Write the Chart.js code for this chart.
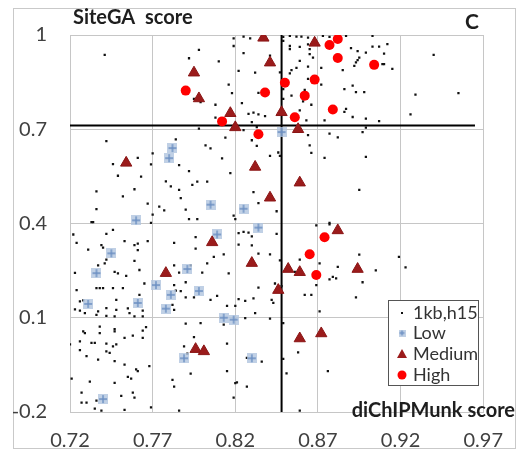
<!DOCTYPE html>
<html>
<head>
<meta charset="utf-8">
<script src="https://cdn.jsdelivr.net/npm/chart.js@4"></script>
<style>
html, body { margin: 0; padding: 0; background: #fff; }
</style>
</head>
<body>
<canvas id="siteScoreChart" width="520" height="453"></canvas>
<script>
var xTicks = [0.72, 0.77, 0.82, 0.87, 0.92, 0.97];
var yTicks = [-0.2, 0.1, 0.4, 0.7, 1];
var cutX = 0.848;
var cutY = 0.712;
var cutYEnd = 0.965;

// 1kb,h15 background sites
var allX = [
 0.741,0.742,0.784,0.746,0.761,0.770,0.769,0.749,0.763,0.778,0.781,0.736,0.759,0.752,0.767,0.736,0.774,0.777,0.770,0.733,0.769,
 0.798,0.792,0.810,0.819,0.819,0.825,0.829,0.825,0.841,0.816,0.818,0.822,0.832,0.834,0.824,0.808,0.795,0.799,0.808,0.828,0.831,0.834,0.830,0.838,0.833,0.798,0.814,0.802,0.805,0.812,0.830,0.833,0.841,0.846,0.786,0.792,0.797,0.803,0.817,0.786,0.794,0.787,0.790,0.831,0.845,0.792,0.797,0.819,0.820,0.834,0.825,
 0.849,0.853,0.857,0.860,0.864,0.873,0.877,0.887,0.903,0.849,0.853,0.859,0.864,0.865,0.890,0.894,0.899,0.903,0.907,0.909,0.853,0.859,0.865,0.867,0.854,0.853,0.847,0.864,0.857,0.893,0.894,0.892,0.895,0.885,0.872,0.864,0.872,0.862,0.863,0.854,0.849,0.849,0.861,0.866,0.859,0.863,0.874,0.886,0.891,0.893,0.898,0.887,0.886,0.891,0.899,0.907,0.899,0.877,0.882,0.897,0.864,0.865,0.866,0.847,0.874,0.899,0.895,0.877,
 0.912,0.910,0.910,0.915,0.940,0.929,0.955,0.926,
 0.734,0.722,0.742,0.746,0.724,0.739,0.740,0.731,0.753,0.759,0.761,0.767,0.761,0.759,0.742,0.741,0.737,0.747,0.749,0.754,0.723,0.762,0.736,0.738,0.740,0.746,0.752,0.724,0.765,0.762,0.726,0.728,0.723,0.726,0.729,0.737,0.742,0.748,0.748,0.747,0.742,0.755,0.756,0.764,0.759,0.764,0.736,
 0.766,0.764,0.728,0.729,0.747,0.747,0.738,0.758,0.753,0.726,0.720,0.733,0.735,0.742,0.746,0.748,0.726,0.742,0.744,0.730,0.737,0.747,0.753,0.760,0.761,0.768,0.721,0.732,0.747,0.755,0.757,0.758,0.759,0.751,0.727,0.727,0.730,0.736,0.735,0.739,0.753,0.769,0.738,0.764,
 0.796,0.796,0.783,0.813,0.807,0.803,0.793,0.783,0.786,0.800,0.816,0.790,0.783,0.784,0.787,0.790,0.795,0.805,0.809,0.782,0.783,0.815,0.820,0.822,0.826,0.831,0.832,0.842,0.845,0.822,0.825,0.828,0.830,0.822,0.830,0.834,0.844,0.834,0.826,0.841,0.813,0.799,0.790,0.795,0.789,0.791,0.815,0.836,0.827,0.793,0.815,0.782,0.783,0.821,0.827,0.819,0.786,
 0.869,0.877,0.847,0.859,0.871,0.882,0.895,0.905,0.897,0.877,0.879,0.881,0.869,0.862,0.866,0.893,0.856,0.871,0.849,0.858,0.849,0.851,0.876,0.859,
 0.919,0.923,0.848,0.843,0.841,0.820
];
var allY = [
 0.937,0.662,0.668,0.589,0.609,0.623,0.588,0.552,0.549,0.534,0.518,0.502,0.509,0.486,0.463,0.446,0.454,0.442,0.428,0.404,0.402,
 0.953,0.926,0.916,0.989,0.965,0.995,0.989,0.942,0.934,0.842,0.815,0.886,0.880,0.816,0.783,0.778,0.797,0.786,0.737,0.749,0.753,0.747,0.723,0.742,0.707,0.702,0.673,0.649,0.639,0.607,0.665,0.647,0.615,0.626,0.586,0.567,0.533,0.533,0.560,0.507,0.523,0.481,0.444,0.500,0.439,0.414,0.414,0.425,0.414,0.465,0.697,
 0.994,0.997,0.995,0.995,0.992,0.997,0.994,0.997,0.997,0.981,0.965,0.962,0.970,0.955,0.958,0.949,0.944,0.963,0.963,0.907,0.955,0.918,0.939,0.928,0.888,0.878,0.881,0.899,0.895,0.913,0.920,0.902,0.928,0.888,0.895,0.860,0.842,0.825,0.816,0.807,0.828,0.797,0.789,0.778,0.760,0.728,0.728,0.828,0.839,0.818,0.818,0.765,0.755,0.739,0.734,0.726,0.705,0.686,0.674,0.691,0.681,0.649,0.625,0.615,0.609,0.612,0.507,0.402,
 0.971,0.941,0.907,0.892,0.937,0.810,0.815,0.747,
 0.404,0.365,0.367,0.380,0.338,0.331,0.323,0.317,0.344,0.331,0.336,0.344,0.315,0.281,0.285,0.273,0.267,0.246,0.241,0.233,0.243,0.252,0.194,0.194,0.194,0.194,0.194,0.188,0.209,0.173,0.152,0.155,0.127,0.123,0.115,0.120,0.131,0.157,0.125,0.104,0.106,0.130,0.115,0.123,0.104,0.104,0.109,
 0.070,0.059,0.057,0.051,0.064,0.057,0.051,0.043,0.036,0.025,0.015,0.020,0.020,0.018,0.009,0.015,-0.003,-0.007,-0.012,-0.022,-0.033,-0.038,-0.049,-0.064,-0.070,-0.054,-0.094,-0.103,-0.107,-0.088,-0.094,-0.138,-0.154,-0.149,-0.138,-0.170,-0.170,-0.164,-0.189,-0.196,-0.193,-0.185,0.072,0.036,
 0.357,0.320,0.338,0.302,0.294,0.273,0.267,0.267,0.244,0.244,0.241,0.213,0.204,0.186,0.185,0.165,0.165,0.157,0.170,0.141,0.125,0.138,0.138,0.159,0.154,0.162,0.115,0.157,0.367,0.369,0.373,0.371,0.359,0.333,0.330,0.304,0.209,0.196,0.099,0.097,0.078,0.083,0.081,0.038,0.009,-0.014,0.018,-0.040,-0.028,-0.078,-0.070,-0.098,-0.119,-0.106,-0.119,-0.154,-0.196,
 0.394,0.397,0.283,0.285,0.273,0.262,0.301,0.251,0.213,0.222,0.230,0.225,0.204,0.173,0.173,0.165,0.246,0.120,0.083,-0.010,-0.031,-0.077,-0.070,-0.196,
 0.294,0.260,0.201,0.147,0.302,-0.108
];

var lowX = [0.782,0.780,0.805,0.825,0.760,0.834,0.809,0.848,0.745,0.736,0.791,0.772,0.798,0.781,0.761,0.731,0.778,0.813,0.819,0.789,0.830,0.740];
var lowY = [0.640,0.608,0.460,0.447,0.410,0.387,0.365,0.691,0.305,0.242,0.255,0.204,0.185,0.173,0.147,0.144,0.129,0.100,0.094,-0.029,-0.029,-0.159];

var mediumX = [0.754,0.795,0.798,0.817,0.820,0.832,0.837,0.841,0.868,0.848,0.858,0.859,0.841,0.882,0.806,0.830,0.778,0.796,0.801,0.852,0.859,0.894,0.846,0.859,0.872];
var mediumY = [0.593,0.880,0.798,0.751,0.706,0.580,0.991,0.912,0.975,0.754,0.700,0.530,0.482,0.378,0.340,0.274,0.242,0.000,-0.007,0.255,0.245,0.255,0.188,0.034,0.050];

var highX = [0.877,0.882,0.882,0.904,0.850,0.868,0.838,0.862,0.879,0.856,0.834,0.790,0.812,0.874,0.865,0.869];
var highY = [0.968,0.987,0.927,0.905,0.848,0.858,0.817,0.807,0.763,0.738,0.684,0.823,0.725,0.356,0.302,0.236];

function pairs(xs, ys) {
    return xs.map(function (x, i) { return { x: x, y: ys[i] }; });
}

function lowMarker(size) {
    var c = document.createElement('canvas');
    c.width = size; c.height = size;
    var g = c.getContext('2d');
    g.fillStyle = 'rgba(176,196,222,0.8)';
    g.fillRect(0, 0, size, size);
    g.strokeStyle = '#6b8fc2';
    g.lineWidth = 1.4;
    g.beginPath();
    g.moveTo(size / 2, 1); g.lineTo(size / 2, size - 1);
    g.moveTo(1, size / 2); g.lineTo(size - 1, size / 2);
    g.stroke();
    return c;
}

var lowImg = lowMarker(10);
var lowImgSmall = lowMarker(7);

var textPlugin = {
    id: 'frameAndText',
    beforeDraw: function (chart) {
        var c = chart.ctx;
        c.save();
        c.strokeStyle = '#c9c9c9';
        c.lineWidth = 1;
        c.strokeRect(13.5, 8.5, 502, 440);
        c.restore();
    },
    afterDraw: function (chart) {
        var c = chart.ctx;
        c.save();
        c.fillStyle = '#1e1e1e';
        c.textBaseline = 'middle';
        c.font = 'bold 20px Lato';
        c.textAlign = 'left';
        c.fillText('SiteGA  score', 73, 18);
        c.textAlign = 'right';
        c.fillText('diChIPMunk score', 515, 411);
        c.textAlign = 'center';
        c.font = 'bold 21px Lato';
        c.fillText('C', 472, 22);

        // legend box
        c.fillStyle = '#fff';
        c.fillRect(388, 300, 90, 85);
        c.strokeStyle = '#555';
        c.lineWidth = 1;
        c.strokeRect(388.5, 300.5, 90, 85);
        var rows = [313, 333, 354, 375];
        var labels = ['1kb,h15', 'Low', 'Medium', 'High'];
        c.font = '18px Lato';
        c.textAlign = 'left';
        c.fillStyle = '#333';
        labels.forEach(function (t, i) { c.fillText(t, 413, rows[i]); });
        c.fillStyle = '#111';
        c.fillRect(401, rows[0] - 1, 2, 2);
        c.drawImage(lowImgSmall, 398.5, rows[1] - 3.5);
        c.fillStyle = '#9b1b1b';
        c.beginPath();
        c.moveTo(402, rows[2] - 5); c.lineTo(407, rows[2] + 4); c.lineTo(397, rows[2] + 4);
        c.closePath(); c.fill();
        c.fillStyle = '#ff0000';
        c.beginPath(); c.arc(402, rows[3], 4.5, 0, Math.PI * 2); c.fill();
        c.restore();
    }
};

var ctx = document.getElementById('siteScoreChart').getContext('2d');
Chart.defaults.font.family = 'Lato';
var siteScoreChart = new Chart(ctx, {
    type: 'scatter',
    data: {
        datasets: [{
            type: 'line',
            label: 'cutY',
            data: [{ x: xTicks[0], y: cutY }, { x: cutYEnd, y: cutY }],
            borderColor: '#000',
            borderWidth: 2,
            pointRadius: 0,
            order: 6
        }, {
            type: 'line',
            label: 'cutX',
            data: [{ x: cutX, y: yTicks[0] }, { x: cutX, y: yTicks[yTicks.length - 1] }],
            borderColor: '#000',
            borderWidth: 2,
            pointRadius: 0,
            order: 5
        }, {
            label: '1kb,h15',
            data: pairs(allX, allY),
            pointStyle: 'rect',
            pointRadius: 1.6,
            backgroundColor: '#111',
            borderWidth: 0,
            order: 4
        }, {
            label: 'Low',
            data: pairs(lowX, lowY),
            pointStyle: lowImg,
            order: 3
        }, {
            label: 'Medium',
            data: pairs(mediumX, mediumY),
            pointStyle: 'triangle',
            pointRadius: 6.5,
            backgroundColor: '#9b1b1b',
            borderColor: '#8a1515',
            borderWidth: 1,
            order: 2
        }, {
            label: 'High',
            data: pairs(highX, highY),
            pointStyle: 'circle',
            pointRadius: 5,
            backgroundColor: '#ff0000',
            borderColor: '#f00',
            borderWidth: 0,
            order: 1
        }]
    },
    options: {
        responsive: false,
        animation: false,
        layout: { padding: { top: 32, right: 34, left: 0, bottom: 0 } },
        plugins: {
            legend: { display: false },
            tooltip: { enabled: false }
        },
        scales: {
            x: {
                min: xTicks[0],
                max: xTicks[xTicks.length - 1],
                afterBuildTicks: function (scale) {
                    scale.ticks = xTicks.map(function (v) { return { value: v }; });
                },
                afterFit: function (scale) { scale.height = 41; },
                grid: { color: '#c6c6c6', drawTicks: false },
                border: { color: '#c6c6c6' },
                ticks: {
                    padding: 17,
                    color: '#404040',
                    font: { size: 20 },
                    maxRotation: 0,
                    callback: function (v) { return String(v); }
                }
            },
            y: {
                min: yTicks[0],
                max: yTicks[yTicks.length - 1],
                afterBuildTicks: function (scale) {
                    scale.ticks = yTicks.map(function (v) { return { value: v }; });
                },
                afterFit: function (scale) { scale.width = 70; },
                grid: { color: '#c6c6c6', drawTicks: false },
                border: { color: '#c6c6c6' },
                ticks: {
                    padding: 23,
                    color: '#404040',
                    font: { size: 20 },
                    callback: function (v) { return String(v); }
                }
            }
        }
    },
    plugins: [textPlugin]
});
</script>
</body>
</html>
